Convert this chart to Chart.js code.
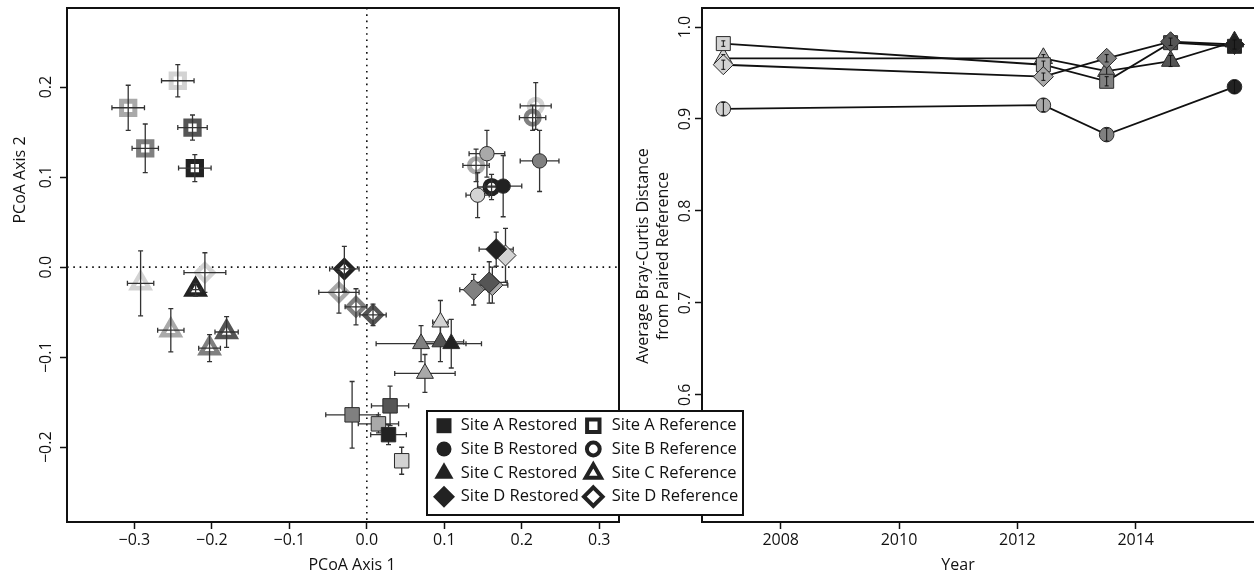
<!DOCTYPE html>
<html>
<head>
<meta charset="utf-8">
<title>PCoA and Bray-Curtis distance</title>
<script src="https://cdn.jsdelivr.net/npm/chart.js@4.4.1/dist/chart.umd.min.js"></script>
<style>
  html, body { margin: 0; padding: 0; background: #fff; overflow: hidden; }
  #wrap { position: relative; width: 1254px; height: 578px; }
  #distChart { position: absolute; left: 0; top: 0; z-index: 1; }
  #pcoaChart { position: absolute; left: 0; top: 0; z-index: 2; }
</style>
</head>
<body>
<div id="wrap">
  <canvas id="distChart" width="1254" height="578"></canvas>
  <canvas id="pcoaChart" width="760" height="578"></canvas>
</div>
<script>
// ================= DATA =================
const years = [2007, 2012, 2013, 2014, 2015];
const yearColors = ["#d3d3d3", "#a9a9a9", "#808080", "#555555", "#222222"];

// left panel: PCoA scores per year (null = not sampled that year)
const aRestX  = [0.045, 0.015, -0.019, 0.030, 0.028];
const aRestY  = [-0.215, -0.174, -0.164, -0.154, -0.186];
const aRestXe = [0.003, 0.026, 0.034, 0.024, 0.023];
const aRestYe = [0.015, 0.010, 0.037, 0.022, 0.011];
const aRefX   = [-0.244, -0.308, -0.286, -0.225, -0.222];
const aRefY   = [0.207, 0.177, 0.132, 0.155, 0.110];
const aRefXe  = [0.021, 0.021, 0.017, 0.019, 0.021];
const aRefYe  = [0.018, 0.025, 0.027, 0.014, 0.015];

const bRestX  = [0.143, 0.155, 0.223, null, 0.176];
const bRestY  = [0.080, 0.126, 0.118, null, 0.090];
const bRestXe = [0.015, 0.023, 0.025, null, 0.024];
const bRestYe = [0.025, 0.026, 0.034, null, 0.034];
const bRefX   = [0.218, 0.141, 0.214, null, 0.161];
const bRefY   = [0.179, 0.113, 0.166, null, 0.089];
const bRefXe  = [0.020, 0.017, 0.017, null, 0.018];
const bRefYe  = [0.026, 0.018, 0.014, null, 0.014];

const cRestX  = [0.095, 0.075, 0.070, 0.095, 0.109];
const cRestY  = [-0.061, -0.118, -0.085, -0.083, -0.085];
const cRestXe = [0.010, 0.039, 0.058, 0.030, 0.039];
const cRestYe = [0.024, 0.021, 0.020, 0.022, 0.027];
const cRefX   = [-0.292, -0.253, -0.203, -0.181, -0.221];
const cRefY   = [-0.018, -0.070, -0.090, -0.072, -0.025];
const cRefXe  = [0.017, 0.017, 0.014, 0.015, 0.007];
const cRefYe  = [0.036, 0.024, 0.015, 0.017, 0.007];

const dRestX  = [0.179, 0.162, 0.138, 0.158, 0.167];
const dRestY  = [0.013, -0.020, -0.025, -0.017, 0.020];
const dRestXe = [0.006, 0.020, 0.018, 0.023, 0.022];
const dRestYe = [0.030, 0.020, 0.017, 0.023, 0.019];
const dRefX   = [-0.209, -0.036, -0.014, 0.008, -0.029];
const dRefY   = [-0.006, -0.028, -0.044, -0.053, -0.002];
const dRefXe  = [0.027, 0.026, 0.014, 0.017, 0.019];
const dRefYe  = [0.022, 0.023, 0.020, 0.012, 0.025];

const pcoaXTicks = [-0.3, -0.2, -0.1, 0, 0.1, 0.2, 0.3];
const pcoaYTicks = [-0.2, -0.1, 0, 0.1, 0.2];

// right panel: where the points sit on the printed year axis
const distX = [2007.03, 2012.44, 2013.51, 2014.59, 2015.67];
const distA = [0.982, 0.959, 0.941, 0.983, 0.979];
const distB = [0.911, 0.915, 0.883, null, 0.935];
const distC = [0.966, 0.966, 0.952, 0.963, 0.984];
const distD = [0.959, 0.946, 0.966, 0.984, 0.981];
const errA  = [0.003, 0.004, 0.005, 0.004, 0.004];
const errB  = [0.007, 0.007, 0.007, null, 0.007];
const errC  = [0.004, 0.004, 0.005, 0.006, 0.004];
const errD  = [0.005, 0.004, 0.004, 0.004, 0.005];

const distXTicks = [2008, 2010, 2012, 2014];
const distYTicks = [0.6, 0.7, 0.8, 0.9, 1.0];

// ================= HELPERS =================
const FONT = '"Open Sans", "Liberation Sans", Arial, sans-serif';
Chart.defaults.font.family = FONT;
Chart.defaults.font.size = 16;
Chart.defaults.color = "#111";

function fmtTick(v) {
  if (Math.abs(v) < 1e-9) return "0.0";
  return (v < 0 ? "\u2212" : "") + Math.abs(v).toFixed(1);
}

function axisScale(min, max, tickValues, size, showLabels, fmt) {
  return {
    type: "linear", min: min, max: max,
    afterBuildTicks: s => { s.ticks = tickValues.map(v => ({ value: v })); },
    afterFit: s => { if (s.isHorizontal()) s.height = size; else s.width = size; },
    grid: { drawOnChartArea: false, drawTicks: true, tickLength: 7, tickWidth: 1.5, tickColor: "#111" },
    border: { display: false },
    ticks: { display: showLabels, padding: 2, callback: fmt, color: "#111", font: { size: 16 }, maxRotation: 0, autoSkip: false }
  };
}

function points(xs, ys, xe, ye) {
  const pts = [], cols = [];
  xs.forEach((x, i) => {
    if (x === null || ys[i] === null) return;
    pts.push({ x: x, y: ys[i], xe: xe ? xe[i] : 0, ye: ye[i] });
    cols.push(yearColors[i]);
  });
  return { pts, cols };
}

function restoredSet(label, style, radius, xs, ys, xe, ye) {
  const p = points(xs, ys, xe, ye);
  return {
    label, data: p.pts, pointStyle: style, pointRadius: radius,
    pointBackgroundColor: p.cols, pointBorderColor: "#2a2a2a", pointBorderWidth: 1,
    order: 1, barsOnTop: false
  };
}

function referenceSet(label, style, radius, width, xs, ys, xe, ye) {
  const p = points(xs, ys, xe, ye);
  return {
    label, data: p.pts, pointStyle: style, pointRadius: radius,
    pointBackgroundColor: "rgba(0,0,0,0)", pointBorderColor: p.cols, pointBorderWidth: width,
    order: 2, barsOnTop: true
  };
}

function drawErrorBars(chart, index) {
  const ds = chart.data.datasets[index];
  const meta = chart.getDatasetMeta(index);
  const xs = chart.scales.x, ys = chart.scales.y, ctx = chart.ctx;
  const cap = ds.capSize || 2.5;
  ctx.save();
  ctx.lineWidth = ds.barWidth || 1.3;
  ctx.strokeStyle = ds.barColor || "#333";
  meta.data.forEach((el, i) => {
    const d = ds.data[i];
    ctx.beginPath();
    if (d.xe) {
      const x1 = xs.getPixelForValue(d.x - d.xe), x2 = xs.getPixelForValue(d.x + d.xe);
      ctx.moveTo(x1, el.y); ctx.lineTo(x2, el.y);
      ctx.moveTo(x1, el.y - cap); ctx.lineTo(x1, el.y + cap);
      ctx.moveTo(x2, el.y - cap); ctx.lineTo(x2, el.y + cap);
    }
    if (d.ye) {
      const y1 = ys.getPixelForValue(d.y - d.ye), y2 = ys.getPixelForValue(d.y + d.ye);
      ctx.moveTo(el.x, y1); ctx.lineTo(el.x, y2);
      ctx.moveTo(el.x - cap, y1); ctx.lineTo(el.x + cap, y1);
      ctx.moveTo(el.x - cap, y2); ctx.lineTo(el.x + cap, y2);
    }
    ctx.stroke();
  });
  ctx.restore();
}

const errorBarPlugin = {
  id: "errorBars",
  beforeDatasetDraw(chart, args) {
    if (!chart.data.datasets[args.index].barsOnTop) drawErrorBars(chart, args.index);
  },
  afterDatasetDraw(chart, args) {
    if (chart.data.datasets[args.index].barsOnTop) drawErrorBars(chart, args.index);
  }
};

function rotatedText(ctx, text, x, y) {
  ctx.save();
  ctx.translate(x, y);
  ctx.rotate(-Math.PI / 2);
  ctx.textAlign = "center";
  ctx.textBaseline = "middle";
  ctx.fillText(text, 0, 0);
  ctx.restore();
}

function flatText(ctx, text, x, y) {
  ctx.textAlign = "center";
  ctx.textBaseline = "middle";
  ctx.fillText(text, x, y);
}

// legend marker shapes
function legendMarker(ctx, shape, x, y, filled) {
  ctx.beginPath();
  if (shape === "square") {
    const h = filled ? 7.5 : 6.2;
    ctx.rect(x - h, y - h, 2 * h, 2 * h);
  } else if (shape === "circle") {
    ctx.arc(x, y, filled ? 7.5 : 6.4, 0, 2 * Math.PI);
  } else if (shape === "triangle") {
    const r = filled ? 11 : 8.8;
    ctx.moveTo(x, y - r);
    ctx.lineTo(x + r * 0.866, y + r * 0.5);
    ctx.lineTo(x - r * 0.866, y + r * 0.5);
    ctx.closePath();
  } else {
    const r = filled ? 11 : 9.3;
    ctx.moveTo(x, y - r); ctx.lineTo(x + r, y); ctx.lineTo(x, y + r); ctx.lineTo(x - r, y);
    ctx.closePath();
  }
  if (filled) {
    ctx.fillStyle = "#222"; ctx.fill();
  } else {
    ctx.lineWidth = 4; ctx.lineJoin = "miter"; ctx.strokeStyle = "#222"; ctx.stroke();
  }
}

// ================= LEFT: PCoA =================
const legendShapes = ["square", "circle", "triangle", "diamond"];
const legendSites = ["Site A", "Site B", "Site C", "Site D"];

const pcoaDecor = {
  id: "pcoaDecor",
  beforeDatasetsDraw(chart) {
    const { ctx, chartArea: a, scales: { x, y } } = chart;
    ctx.save();
    ctx.strokeStyle = "#111";
    ctx.lineWidth = 1.6;
    ctx.setLineDash([1.6, 4.7]);
    const x0 = x.getPixelForValue(0), y0 = y.getPixelForValue(0);
    ctx.beginPath();
    ctx.moveTo(x0, a.top); ctx.lineTo(x0, a.bottom);
    ctx.moveTo(a.left, y0); ctx.lineTo(a.right, y0);
    ctx.stroke();
    ctx.setLineDash([]);
    ctx.lineWidth = 2;
    ctx.strokeRect(a.left, a.top, a.right - a.left, a.bottom - a.top);

    ctx.fillStyle = "#111";
    ctx.font = "16px " + FONT;
    y.ticks.forEach(t => rotatedText(ctx, fmtTick(t.value), 46, y.getPixelForValue(t.value)));
    rotatedText(ctx, "PCoA Axis 2", 20, 180);
    flatText(ctx, "PCoA Axis 1", 352, 565);
    ctx.restore();
  },
  afterDraw(chart) {
    const ctx = chart.ctx;
    ctx.save();
    ctx.fillStyle = "#fff";
    ctx.fillRect(427, 411, 316, 104);
    ctx.lineWidth = 2;
    ctx.strokeStyle = "#111";
    ctx.strokeRect(427, 411, 316, 104);
    const rows = [425.7, 449, 473.3, 496.7];
    ctx.font = "16.5px " + FONT;
    rows.forEach((ry, i) => {
      legendMarker(ctx, legendShapes[i], 444, ry, true);
      legendMarker(ctx, legendShapes[i], 593.3, ry, false);
      ctx.fillStyle = "#111";
      ctx.textAlign = "left";
      ctx.textBaseline = "middle";
      ctx.fillText(legendSites[i] + " Restored", 460.7, ry);
      ctx.fillText(legendSites[i] + " Reference", 611.7, ry);
    });
    ctx.restore();
  }
};

new Chart(document.getElementById("pcoaChart"), {
  type: "scatter",
  data: {
    datasets: [
      restoredSet("Site A Restored", "rect", 10.2, aRestX, aRestY, aRestXe, aRestYe),
      restoredSet("Site B Restored", "circle", 7.2, bRestX, bRestY, bRestXe, bRestYe),
      restoredSet("Site C Restored", "triangle", 9.8, cRestX, cRestY, cRestXe, cRestYe),
      restoredSet("Site D Restored", "rectRot", 10.5, dRestX, dRestY, dRestXe, dRestYe),
      referenceSet("Site A Reference", "rect", 9.4, 5, aRefX, aRefY, aRefXe, aRefYe),
      referenceSet("Site B Reference", "circle", 6.7, 4.8, bRefX, bRefY, bRefXe, bRefYe),
      referenceSet("Site C Reference", "triangle", 9.9, 4.5, cRefX, cRefY, cRefXe, cRefYe),
      referenceSet("Site D Reference", "rectRot", 8.5, 4.5, dRefX, dRefY, dRefXe, dRefYe)
    ]
  },
  options: {
    responsive: false, animation: false, events: [], devicePixelRatio: 1,
    layout: { autoPadding: false, padding: { left: 0, top: 8, right: 141, bottom: 0 } },
    plugins: { legend: { display: false }, tooltip: { enabled: false } },
    scales: {
      x: axisScale(-0.387, 0.3255, pcoaXTicks, 56, true, v => fmtTick(v)),
      y: axisScale(-0.283, 0.2878, pcoaYTicks, 67, false, v => fmtTick(v))
    }
  },
  plugins: [errorBarPlugin, pcoaDecor]
});

// ================= RIGHT: DISTANCE =================
function distSet(label, style, radius, ys, errs) {
  const p = points(distX, ys, null, errs);
  return {
    label, data: p.pts, showLine: true, borderColor: "#111", borderWidth: 1.8,
    pointStyle: style, pointRadius: radius, pointBackgroundColor: p.cols,
    pointBorderColor: "#2a2a2a", pointBorderWidth: 1,
    barsOnTop: true, capSize: 2, barColor: "#111", barWidth: 1
  };
}

const distDecor = {
  id: "distDecor",
  beforeDatasetsDraw(chart) {
    const { ctx, chartArea: a, scales: { y } } = chart;
    ctx.save();
    ctx.strokeStyle = "#111";
    ctx.lineWidth = 2;
    ctx.beginPath();
    ctx.moveTo(a.right + 2, a.top); ctx.lineTo(a.left, a.top);
    ctx.lineTo(a.left, a.bottom); ctx.lineTo(a.right + 2, a.bottom);
    ctx.stroke();
    ctx.fillStyle = "#111";
    ctx.font = "16px " + FONT;
    y.ticks.forEach(t => rotatedText(ctx, t.value.toFixed(1), 685, y.getPixelForValue(t.value)));
    rotatedText(ctx, "Average Bray-Curtis Distance", 643, 256);
    rotatedText(ctx, "from Paired Reference", 663, 256);
    flatText(ctx, "Year", 958, 565);
    ctx.restore();
  }
};

new Chart(document.getElementById("distChart"), {
  type: "scatter",
  data: {
    datasets: [
      distSet("Site D", "rectRot", 10, distD, errD),
      distSet("Site A", "rect", 9.9, distA, errA),
      distSet("Site C", "triangle", 10.5, distC, errC),
      distSet("Site B", "circle", 7.3, distB, errB)
    ]
  },
  options: {
    responsive: false, animation: false, events: [], devicePixelRatio: 1,
    layout: { autoPadding: false, padding: { left: 0, top: 8, right: 0, bottom: 0 } },
    plugins: { legend: { display: false }, tooltip: { enabled: false } },
    scales: {
      x: axisScale(2006.67, 2016.0, distXTicks, 56, true, v => String(v)),
      y: axisScale(0.4617, 1.0207, distYTicks, 702, false, v => v.toFixed(1))
    }
  },
  plugins: [errorBarPlugin, distDecor]
});
</script>
</body>
</html>
